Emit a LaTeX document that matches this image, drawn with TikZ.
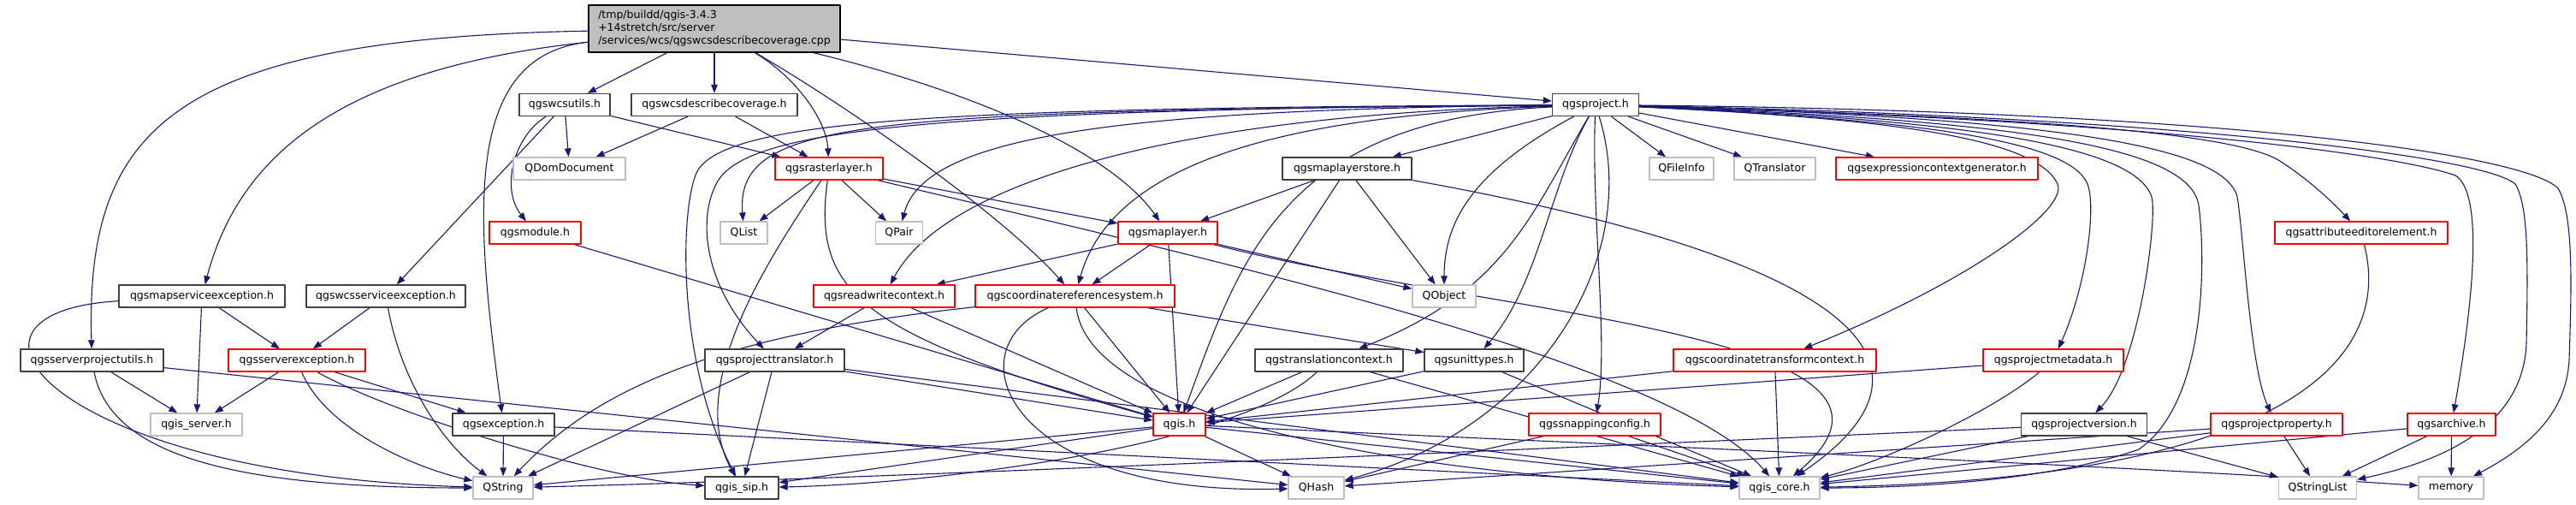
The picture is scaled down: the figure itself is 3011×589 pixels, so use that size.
\documentclass[tikz,border=0pt]{standalone}
\usepackage{fontspec}
\setmainfont{DejaVu Sans}
\usetikzlibrary{arrows.meta}
\definecolor{incblue}{HTML}{191970}
\definecolor{incgray}{HTML}{BFBFBF}
\definecolor{incdark}{HTML}{404040}
\pgfdeclarelayer{edges}
\pgfsetlayers{edges,main}
\tikzset{
  inc graph/.style={
    x=1pt,
    y=1pt,
    line join=round
  },
  inc box/.style={
    draw,
    fill=white,
    line width=1.3pt,
    minimum height=26pt,
    inner sep=0pt,
    font=\fontsize{12.5}{15}\selectfont
  },
  inc root/.style={
    inc box,
    fill=incgray,
    draw=black,
    minimum height=55pt,
    align=left
  },
  inc black/.style={inc box, draw=incdark},
  inc red/.style={inc box, draw=red},
  inc gray/.style={inc box, draw=incgray},
  inc edge/.style={
    draw=incblue,
    line width=1.1pt,
    -{Triangle[length=10pt,width=7.5pt]}
  }
}

\begin{document}
\begin{tikzpicture}[inc graph]

  \useasboundingbox (0,0) rectangle (3011,-589);

  % rank 0 and 1
  \node[inc root, minimum width=294] (root) at (835,-33.5)
    {/tmp/buildd/qgis-3.4.3\\+14stretch/src/server\\/services/wcs/qgswcsdescribecoverage.cpp};
  \node[inc black, minimum width=106] (wcsutils) at (660,-122.5) {qgswcsutils.h};
  \node[inc black, minimum width=194] (wcsdescribe) at (835,-122.5) {qgswcsdescribecoverage.h};
  \node[inc black, minimum width=101] (project) at (1865,-122.5) {qgsproject.h};

  % rank 2
  \node[inc gray, minimum width=131] (domdoc) at (665.5,-197) {QDomDocument};
  \node[inc red, minimum width=126] (rasterlayer) at (969,-197) {qgsrasterlayer.h};
  \node[inc black, minimum width=151] (maplayerstore) at (1574.5,-197) {qgsmaplayerstore.h};
  \node[inc gray, minimum width=75] (fileinfo) at (1965.5,-197) {QFileInfo};
  \node[inc gray, minimum width=95] (translator) at (2074.5,-197) {QTranslator};
  \node[inc red, minimum width=236] (exprctxgen) at (2264,-197) {qgsexpressioncontextgenerator.h};

  % rank 3
  \node[inc red, minimum width=107] (module) at (625.5,-272) {qgsmodule.h};
  \node[inc gray, minimum width=55] (qlist) at (869.5,-272) {QList};
  \node[inc gray, minimum width=55] (qpair) at (1051,-272) {QPair};
  \node[inc red, minimum width=116] (maplayer) at (1365,-272) {qgsmaplayer.h};
  \node[inc red, minimum width=202] (attreditor) at (2760,-272) {qgsattributeeditorelement.h};

  % rank 4
  \node[inc black, minimum width=194] (mapserviceexc) at (236,-346) {qgsmapserviceexception.h};
  \node[inc black, minimum width=186] (wcsserviceexc) at (451,-346) {qgswcsserviceexception.h};
  \node[inc red, minimum width=165] (readwritectx) at (1033.5,-346) {qgsreadwritecontext.h};
  \node[inc red, minimum width=233] (crs) at (1256.5,-346) {qgscoordinatereferencesystem.h};
  \node[inc gray, minimum width=74] (qobject) at (1688,-346) {QObject};

  % rank 5
  \node[inc black, minimum width=167] (serverprojutils) at (107.5,-421) {qgsserverprojectutils.h};
  \node[inc red, minimum width=160] (serverexc) at (347,-421) {qgsserverexception.h};
  \node[inc black, minimum width=163] (projtranslator) at (905.5,-421) {qgsprojecttranslator.h};
  \node[inc black, minimum width=173] (translationctx) at (1553.5,-421) {qgstranslationcontext.h};
  \node[inc black, minimum width=116] (unittypes) at (1723,-421) {qgsunittypes.h};
  \node[inc red, minimum width=237] (crtc) at (2074.5,-421) {qgscoordinatetransformcontext.h};
  \node[inc red, minimum width=164] (projmetadata) at (2400,-421) {qgsprojectmetadata.h};

  % rank 6
  \node[inc gray, minimum width=107] (qgisserver) at (229.5,-496) {qgis\_server.h};
  \node[inc black, minimum width=119] (exception) at (588.5,-496) {qgsexception.h};
  \node[inc red, minimum width=61] (qgis) at (1378.5,-496) {qgis.h};
  \node[inc red, minimum width=154] (snapping) at (1864,-496) {qgssnappingconfig.h};
  \node[inc black, minimum width=147] (projversion) at (2436,-496) {qgsprojectversion.h};
  \node[inc red, minimum width=154] (projproperty) at (2661,-496) {qgsprojectproperty.h};
  \node[inc red, minimum width=103] (archive) at (2865.5,-496) {qgsarchive.h};

  % rank 7
  \node[inc gray, minimum width=70] (qstring) at (588,-570) {QString};
  \node[inc black, minimum width=86] (qgissip) at (867,-570) {qgis\_sip.h};
  \node[inc gray, minimum width=65] (qhash) at (1538.5,-570) {QHash};
  \node[inc gray, minimum width=94] (qgiscore) at (2080,-570) {qgis\_core.h};
  \node[inc gray, minimum width=91] (qstringlist) at (2709,-570) {QStringList};
  \node[inc gray, minimum width=76] (memory) at (2865,-570) {memory};

  \begin{pgfonlayer}{edges}
  % straight includes
  \foreach \a/\b in {root/wcsutils, root/wcsdescribe, root/project,
      wcsutils/domdoc, wcsutils/wcsserviceexc, wcsutils/rasterlayer,
      wcsdescribe/domdoc, wcsdescribe/rasterlayer, module/qgis,
      mapserviceexc/serverexc, mapserviceexc/qgisserver, wcsserviceexc/serverexc,
      serverprojutils/qgisserver, serverprojutils/qhash,
      serverexc/qgisserver, serverexc/exception,
      exception/qstring, exception/qgiscore,
      rasterlayer/qlist, rasterlayer/qpair, rasterlayer/maplayer,
      maplayer/readwritectx, maplayer/crs, maplayer/qgis, maplayer/qobject,
      maplayerstore/maplayer, maplayerstore/qgis, maplayerstore/qobject,
      project/maplayerstore, project/fileinfo, project/translator, project/exprctxgen,
      readwritectx/projtranslator, readwritectx/qgis, crs/qgis, crs/unittypes,
      projtranslator/qstring, projtranslator/qgissip, projtranslator/qgis, projtranslator/qgiscore,
      translationctx/qgis, translationctx/qgiscore, unittypes/qgis, unittypes/qgiscore,
      qgis/qgissip, qgis/qstring, qgis/qhash, qgis/qgiscore,
      crtc/qgis, crtc/qgiscore, projmetadata/qgis,
      snapping/qhash, snapping/qgiscore, projversion/qgiscore, projversion/qstringlist,
      projproperty/qstringlist, projproperty/qhash, projproperty/qgiscore,
      archive/qgiscore, archive/qstringlist, archive/memory}
    \draw[inc edge] (\a) -- (\b);

  % curved includes
  \draw[inc edge] (root) .. controls (200,-45) and (100,-150) .. (serverprojutils);
  \draw[inc edge] (root) .. controls (400,-80) and (280,-180) .. (mapserviceexc);
  \draw[inc edge] (root) .. controls (540,-65) and (555,-250) .. (exception);
  \draw[inc edge] (root) .. controls (930,-90) and (966,-140) .. (rasterlayer);
  \draw[inc edge] (root) .. controls (1000,-130) and (1170,-250) .. (crs);
  \draw[inc edge] (root) .. controls (1150,-110) and (1300,-180) .. (maplayer);
  \draw[inc edge] (wcsutils) .. controls (600,-160) and (585,-220) .. (module);
  \draw[inc edge] (mapserviceexc) .. controls (-90,-365) and (60,-555) .. (qstring);
  \draw[inc edge] (wcsserviceexc) .. controls (470,-450) and (520,-520) .. (qstring);
  \draw[inc edge] (serverprojutils) .. controls (130,-540) and (300,-570) .. (qstring);
  \draw[inc edge] (serverexc) .. controls (380,-500) and (480,-545) .. (qstring);
  \draw[inc edge] (serverexc) .. controls (450,-480) and (700,-560) .. (qgissip);
  \draw[inc edge] (rasterlayer) .. controls (900,-300) and (800,-450) .. (qgissip);
  \draw[inc edge] (rasterlayer) .. controls (950,-340) and (1000,-390) .. (qgis);
  \draw[inc edge] (rasterlayer) .. controls (1400,-300) and (1950,-420) .. (qgiscore);
  \draw[inc edge] (maplayer) .. controls (1750,-370) and (2290,-390) .. (qgiscore);
  \draw[inc edge] (maplayerstore) .. controls (2150,-300) and (2300,-420) .. (qgiscore);
  \draw[inc edge] (crs) .. controls (850,-390) and (700,-450) .. (qstring);
  \draw[inc edge] (crs) .. controls (1110,-410) and (1180,-580) .. (qhash);
  \draw[inc edge] (crs) .. controls (1275,-500) and (1700,-560) .. (qgiscore);
  \draw[inc edge] (translationctx) .. controls (1450,-520) and (1100,-565) .. (qgissip);
  \draw[inc edge] (projmetadata) .. controls (2330,-480) and (2200,-540) .. (qgiscore);
  \draw[inc edge] (attreditor) .. controls (2800,-430) and (2650,-560) .. (qgiscore);
  \draw[inc edge] (projversion) .. controls (1900,-520) and (1000,-560) .. (qstring);
  \draw[inc edge] (qgis) .. controls (1900,-520) and (2500,-545) .. (memory);

  % qgsproject.h fans out to the left and down
  \draw[inc edge] (project) .. controls (1000,-130) and (860,-140) .. (qlist);
  \draw[inc edge] (project) .. controls (1300,-128) and (1080,-160) .. (qpair);
  \draw[inc edge] (project) .. controls (1350,-135) and (1100,-220) .. (readwritectx);
  \draw[inc edge] (project) .. controls (1100,-128) and (880,-150) .. (840,-210)
                            .. controls (815,-250) and (820,-330) .. (projtranslator);
  \draw[inc edge] (project) .. controls (1100,-126) and (850,-140) .. (815,-200)
                            .. controls (795,-240) and (790,-420) .. (qgissip);
  \draw[inc edge] (project) .. controls (1500,-135) and (1300,-190) .. (crs);
  \draw[inc edge] (project) .. controls (1500,-140) and (1450,-300) .. (qgis);
  \draw[inc edge] (project) .. controls (1720,-200) and (1688,-260) .. (qobject);
  \draw[inc edge] (project) .. controls (1790,-250) and (1760,-340) .. (translationctx);
  \draw[inc edge] (project) .. controls (1810,-220) and (1800,-330) .. (unittypes);
  \draw[inc edge] (project) .. controls (1860,-250) and (1880,-400) .. (snapping);
  \draw[inc edge] (project) .. controls (1920,-300) and (1800,-500) .. (qhash);

  % qgsproject.h fans out to the right
  \draw[inc edge] (project) .. controls (2200,-138) and (2380,-160) .. (2405,-215)
                            .. controls (2418,-245) and (2300,-330) .. (crtc);
  \draw[inc edge] (project) .. controls (2250,-140) and (2420,-165) .. (2440,-215)
                            .. controls (2450,-240) and (2440,-330) .. (projmetadata);
  \draw[inc edge] (project) .. controls (2300,-140) and (2495,-170) .. (2515,-230)
                            .. controls (2522,-255) and (2500,-430) .. (projversion);
  \draw[inc edge] (project) .. controls (2350,-140) and (2560,-170) .. (2570,-240)
                            .. controls (2578,-300) and (2580,-470) .. (2500,-525)
                            .. controls (2400,-560) and (2250,-570) .. (qgiscore);
  \draw[inc edge] (project) .. controls (2400,-138) and (2600,-170) .. (2615,-230)
                            .. controls (2622,-270) and (2630,-430) .. (projproperty);
  \draw[inc edge] (project) .. controls (2300,-135) and (2600,-150) .. (2663,-187)
                            .. controls (2700,-210) and (2730,-240) .. (attreditor);
  \draw[inc edge] (project) .. controls (2500,-140) and (2800,-180) .. (2870,-205)
                            .. controls (2895,-220) and (2900,-300) .. (archive);
  \draw[inc edge] (project) .. controls (2500,-135) and (2900,-180) .. (2940,-215)
                            .. controls (2955,-240) and (2955,-300) .. (2953,-400)
                            .. controls (2950,-500) and (2850,-540) .. (qstringlist);
  \draw[inc edge] (project) .. controls (2600,-130) and (2950,-180) .. (2990,-220)
                            .. controls (3008,-250) and (3006,-330) .. (3003,-420)
                            .. controls (3000,-480) and (2960,-520) .. (memory);
  \end{pgfonlayer}

\end{tikzpicture}
\end{document}
